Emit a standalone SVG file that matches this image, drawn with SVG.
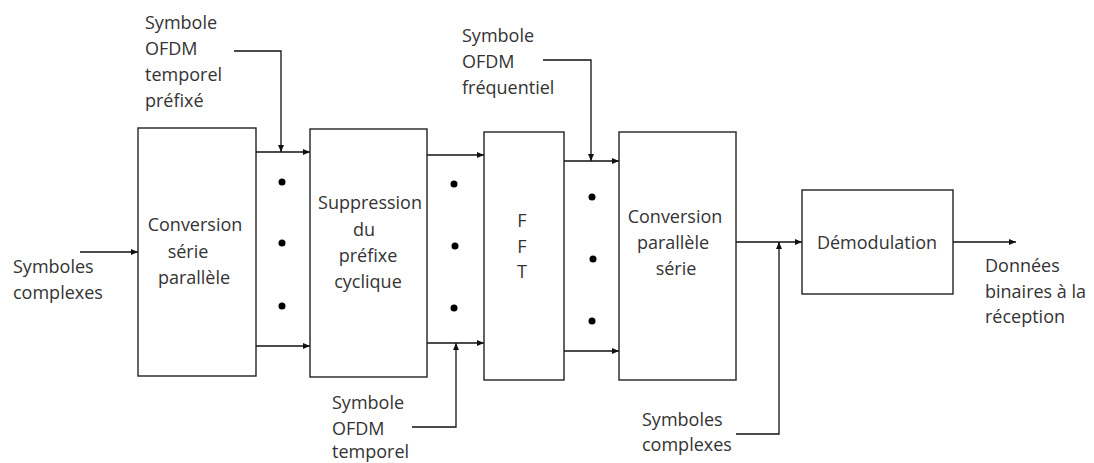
<svg xmlns="http://www.w3.org/2000/svg" width="1094" height="463" viewBox="0 0 1094 463">
<defs>
<style>
.box{fill:#fff;stroke:#222;stroke-width:1.4}
.ln{fill:none;stroke:#111;stroke-width:1.3}
.t{font-family:"Open Sans","Liberation Sans",sans-serif;font-size:18px;fill:#333}
.m{text-anchor:middle}
.dot{fill:#000}
</style>
<marker id="ah" markerWidth="8" markerHeight="8" refX="7" refY="4" orient="auto" markerUnits="userSpaceOnUse">
<path d="M0,1 L7,4 L0,7 Z" fill="#111"/>
</marker>
</defs>
<rect width="1094" height="463" fill="#fff"/>

<g id="connectors">
<line class="ln" x1="80" y1="252" x2="138" y2="252" marker-end="url(#ah)"/>
<line class="ln" x1="256" y1="152" x2="310" y2="152" marker-end="url(#ah)"/>
<line class="ln" x1="256" y1="346" x2="310" y2="346" marker-end="url(#ah)"/>
<polyline class="ln" points="234,51 281,51 281,152" marker-end="url(#ah)"/>
<line class="ln" x1="427" y1="155" x2="484" y2="155" marker-end="url(#ah)"/>
<line class="ln" x1="427" y1="343" x2="484" y2="343" marker-end="url(#ah)"/>
<polyline class="ln" points="412,427 456,427 456,343" marker-end="url(#ah)"/>
<line class="ln" x1="564" y1="161" x2="619" y2="161" marker-end="url(#ah)"/>
<line class="ln" x1="564" y1="351" x2="619" y2="351" marker-end="url(#ah)"/>
<polyline class="ln" points="543,60 591,60 591,161" marker-end="url(#ah)"/>
<line class="ln" x1="736" y1="242" x2="802" y2="242" marker-end="url(#ah)"/>
<polyline class="ln" points="736,434 779,434 779,242" marker-end="url(#ah)"/>
<line class="ln" x1="953" y1="242" x2="1016" y2="242" marker-end="url(#ah)"/>
</g>

<g id="dots">
<circle class="dot" cx="282" cy="182" r="3.5"/>
<circle class="dot" cx="282" cy="243" r="3.5"/>
<circle class="dot" cx="282" cy="306" r="3.5"/>
<circle class="dot" cx="454" cy="184" r="3.5"/>
<circle class="dot" cx="455" cy="246" r="3.5"/>
<circle class="dot" cx="454" cy="308" r="3.5"/>
<circle class="dot" cx="592" cy="197" r="3.5"/>
<circle class="dot" cx="593" cy="259" r="3.5"/>
<circle class="dot" cx="592" cy="321" r="3.5"/>
</g>

<g id="n1">
<rect class="box" x="138" y="128" width="118" height="248"/>
<text class="t m" x="195" y="231">Conversion</text>
<text class="t m" x="188" y="258">série</text>
<text class="t m" x="194" y="284">parallèle</text>
</g>

<g id="n2">
<rect class="box" x="310" y="129" width="117" height="248"/>
<text class="t m" x="370" y="209">Suppression</text>
<text class="t m" x="364" y="236">du</text>
<text class="t m" x="368" y="262">préfixe</text>
<text class="t m" x="368" y="288">cyclique</text>
</g>

<g id="n3">
<rect class="box" x="484" y="132" width="80" height="248"/>
<text class="t m" x="522" y="227">F</text>
<text class="t m" x="522" y="253">F</text>
<text class="t m" x="522" y="278">T</text>
</g>

<g id="n4">
<rect class="box" x="619" y="132" width="117" height="248"/>
<text class="t m" x="675" y="223">Conversion</text>
<text class="t m" x="673" y="249">parallèle</text>
<text class="t m" x="676" y="275">série</text>
</g>

<g id="n5">
<rect class="box" x="802" y="190" width="151" height="104"/>
<text class="t m" x="877" y="249">Démodulation</text>
</g>

<g id="labels">
<text class="t" x="13" y="273">Symboles</text>
<text class="t" x="13" y="299">complexes</text>
<text class="t" x="145" y="29">Symbole</text>
<text class="t" x="145" y="55">OFDM</text>
<text class="t" x="145" y="81">temporel</text>
<text class="t" x="145" y="107">préfixé</text>
<text class="t" x="462" y="42">Symbole</text>
<text class="t" x="462" y="68">OFDM</text>
<text class="t" x="462" y="94">fréquentiel</text>
<text class="t" x="332" y="409">Symbole</text>
<text class="t" x="332" y="435">OFDM</text>
<text class="t" x="332" y="458">temporel</text>
<text class="t" x="642" y="426">Symboles</text>
<text class="t" x="642" y="451">complexes</text>
<text class="t" x="985" y="272">Données</text>
<text class="t" x="985" y="298">binaires à la</text>
<text class="t" x="985" y="323">réception</text>
</g>
</svg>
